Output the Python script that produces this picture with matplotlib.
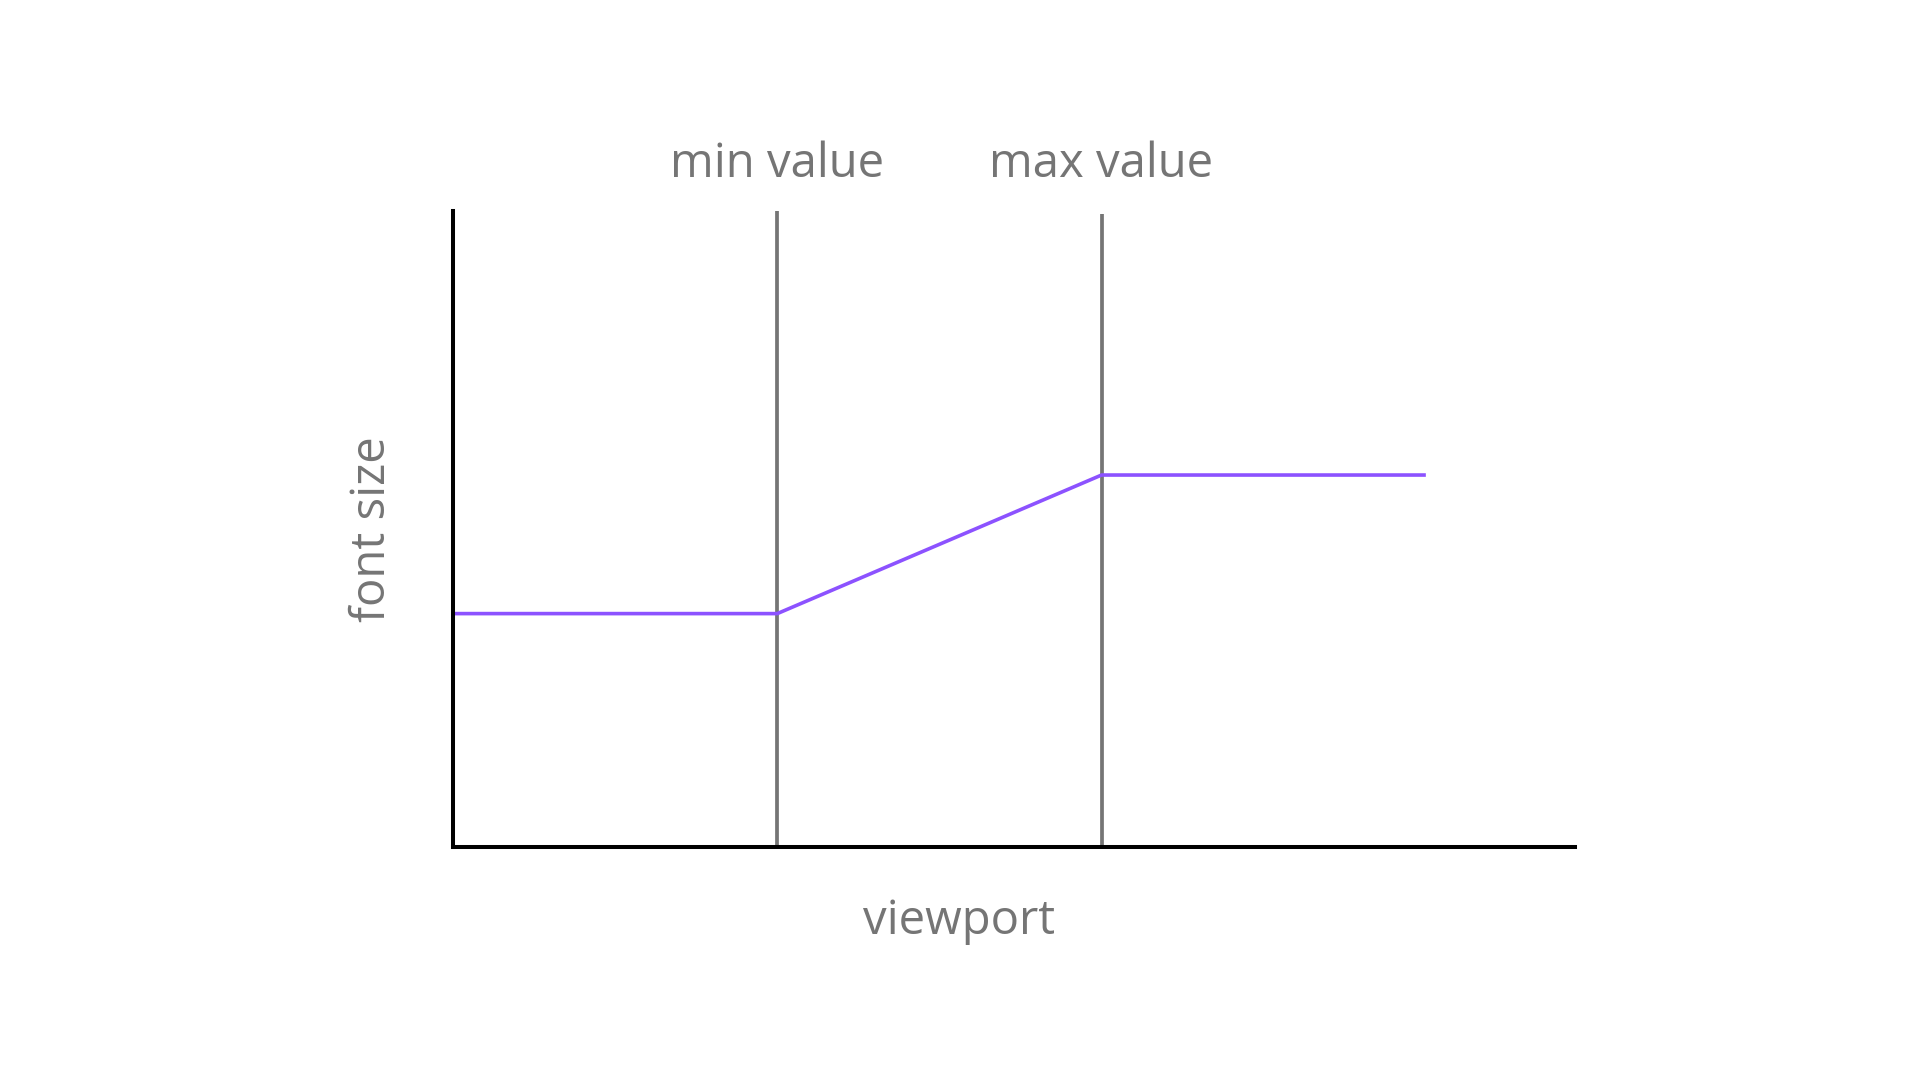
import matplotlib.pyplot as plt

# breakpoints along the viewport axis and the clamped font size
viewport = [0, 1, 2, 3]
font_size = [16, 16, 25.5, 25.5]
markers = [1, 2]
marker_labels = ["min value", "max value"]
marker_tops = [43.6, 43.4]

GRAY = '#757575'
PURPLE = '#8c52ff'

plt.rcParams['font.family'] = ['Open Sans', 'DejaVu Sans']

fig = plt.figure(figsize = (19.2, 10.8), dpi = 100)
fig.patch.set_facecolor('white')

L, B, R, T = 453, 847, 1575, 211
ax = fig.add_axes([L / 1920, (1080 - B) / 1080, (R - L) / 1920, (B - T) / 1080])
ax.set_xlim(0, 3.46)
ax.set_ylim(0, 43.6)

for x, top in zip(markers, marker_tops):
  ax.vlines(x, 0, top, color = GRAY, linewidth = 2.7, zorder = 1)

ax.plot(viewport, font_size, color = PURPLE, linewidth = 2.6, zorder = 2, solid_capstyle = 'butt')

for side in ['top', 'right']:
  ax.spines[side].set_visible(False)
for side in ['left', 'bottom']:
  ax.spines[side].set_color('black')
  ax.spines[side].set_linewidth(2.9)
  ax.spines[side].set_zorder(3)
ax.set_xticks([])
ax.set_yticks([])

for x, label in zip(markers, marker_labels):
  ax.text(x, 1.053, label, transform = ax.get_xaxis_transform(), ha = 'center', va = 'baseline',
          fontsize = 34, color = GRAY)

fig.text(959 / 1920, 1 - 921 / 1080, "viewport", ha = 'center', va = 'center', fontsize = 34, color = GRAY)
fig.text(372 / 1920, 1 - 529 / 1080, "font size", ha = 'center', va = 'center', rotation = 90,
         fontsize = 34, color = GRAY)

fig.savefig("out.png", dpi = 100)
